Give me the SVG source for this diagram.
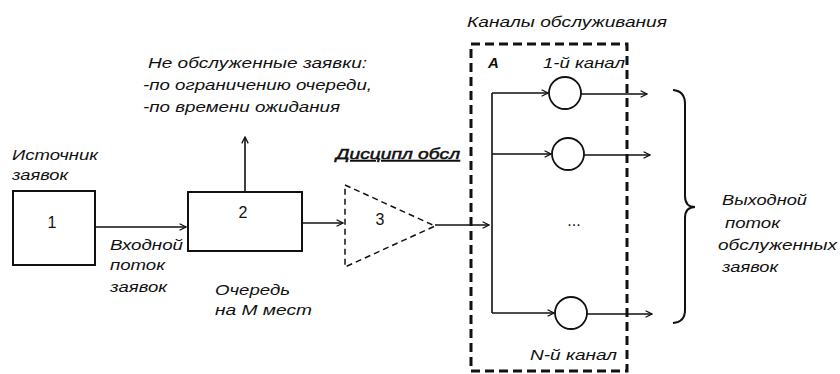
<svg xmlns="http://www.w3.org/2000/svg" width="840" height="374" viewBox="0 0 840 374">
<style>
text{font-family:"Liberation Sans","DejaVu Sans",sans-serif;font-style:italic;font-size:15px;fill:#111;}
.num{font-style:normal;font-size:16px;}
.box{fill:none;stroke:#111;stroke-width:2;}
.conn{fill:none;stroke:#111;stroke-width:1.6;}
.circ{fill:#fff;stroke:#111;stroke-width:1.8;}
.dash{fill:none;stroke:#111;stroke-width:3;stroke-dasharray:9,5;}
.tri{fill:none;stroke:#111;stroke-width:1.5;stroke-dasharray:6,4;}
</style>
<defs>
<marker id="arr" viewBox="0 0 10 10" refX="9" refY="5" markerWidth="8" markerHeight="8" markerUnits="userSpaceOnUse" orient="auto">
<polyline points="1,1 9,5 1,9" fill="none" stroke="#111" stroke-width="1.6"/>
</marker>
</defs>
<rect width="840" height="374" fill="#fff"/>

<g id="source">
<rect class="box" x="13" y="191" width="82" height="74"/>
<text class="num" x="52" y="228" text-anchor="middle">1</text>
<text x="12" y="160" textLength="86" lengthAdjust="spacingAndGlyphs">Источник</text>
<text x="12" y="180" textLength="56" lengthAdjust="spacingAndGlyphs">заявок</text>
</g>

<g id="input-label">
<text x="110" y="250" textLength="73" lengthAdjust="spacingAndGlyphs">Входной</text>
<text x="110" y="270" textLength="55" lengthAdjust="spacingAndGlyphs">поток</text>
<text x="110" y="292" textLength="57" lengthAdjust="spacingAndGlyphs">заявок</text>
</g>

<g id="queue">
<rect class="box" x="188" y="192" width="114" height="59"/>
<text class="num" x="243" y="218" text-anchor="middle">2</text>
<text x="215" y="295" textLength="75" lengthAdjust="spacingAndGlyphs">Очередь</text>
<text x="215" y="315" textLength="97" lengthAdjust="spacingAndGlyphs">на М мест</text>
</g>

<g id="rejected">
<text x="148" y="68" textLength="219" lengthAdjust="spacingAndGlyphs">Не обслуженные заявки:</text>
<text x="143" y="90" textLength="229" lengthAdjust="spacingAndGlyphs">-по ограничению очереди,</text>
<text x="143" y="112" textLength="197" lengthAdjust="spacingAndGlyphs">-по времени ожидания</text>
</g>

<g id="discipline">
<polygon class="tri" points="345,185 435,226 345,267"/>
<text class="num" x="380" y="225" text-anchor="middle">3</text>
<text x="336" y="159" textLength="124" lengthAdjust="spacingAndGlyphs" text-decoration="underline" stroke="#111" stroke-width="0.5">Дисципл обсл</text>
</g>

<g id="channels">
<rect class="dash" x="471" y="44" width="156" height="327"/>
<text x="467" y="27" textLength="200" lengthAdjust="spacingAndGlyphs">Каналы обслуживания</text>
<text x="488" y="68" font-weight="bold">A</text>
<text x="543" y="68" textLength="82" lengthAdjust="spacingAndGlyphs">1-й канал</text>
<text x="530" y="360" textLength="87" lengthAdjust="spacingAndGlyphs">N-й канал</text>
<text x="574" y="226" text-anchor="middle" class="num" font-size="12">...</text>
</g>

<g id="channel-1">
<circle class="circ" cx="565" cy="93" r="16"/>
</g>
<g id="channel-2">
<circle class="circ" cx="568" cy="154" r="16"/>
</g>
<g id="channel-N">
<circle class="circ" cx="571" cy="313" r="16"/>
</g>

<g id="output">
<path d="M673,90 Q685,91 685,104 L685,196 Q685,207 695,207 Q685,207 685,218 L685,310 Q685,322 673,323" fill="none" stroke="#111" stroke-width="2"/>
<text x="722" y="205" textLength="85" lengthAdjust="spacingAndGlyphs">Выходной</text>
<text x="725" y="228" textLength="55" lengthAdjust="spacingAndGlyphs">поток</text>
<text x="718" y="250" textLength="119" lengthAdjust="spacingAndGlyphs">обслуженных</text>
<text x="722" y="272" textLength="56" lengthAdjust="spacingAndGlyphs">заявок</text>
</g>

<g id="connectors">
<line class="conn" x1="95" y1="227" x2="186" y2="227" marker-end="url(#arr)"/>
<line class="conn" x1="245" y1="192" x2="245" y2="137" marker-end="url(#arr)"/>
<line class="conn" x1="302" y1="223" x2="343" y2="223" stroke-width="2.2" marker-end="url(#arr)"/>
<line class="conn" x1="435" y1="225" x2="489" y2="225" stroke-width="2" marker-end="url(#arr)"/>
<line class="conn" x1="492" y1="93" x2="492" y2="313"/>
<line class="conn" x1="492" y1="93" x2="548" y2="93" marker-end="url(#arr)"/>
<line class="conn" x1="492" y1="154" x2="551" y2="154" marker-end="url(#arr)"/>
<line class="conn" x1="492" y1="313" x2="554" y2="313" marker-end="url(#arr)"/>
<line class="conn" x1="581" y1="94" x2="647" y2="94" marker-end="url(#arr)"/>
<line class="conn" x1="584" y1="155" x2="650" y2="155" marker-end="url(#arr)"/>
<line class="conn" x1="587" y1="314" x2="652" y2="314" marker-end="url(#arr)"/>
</g>
</svg>
